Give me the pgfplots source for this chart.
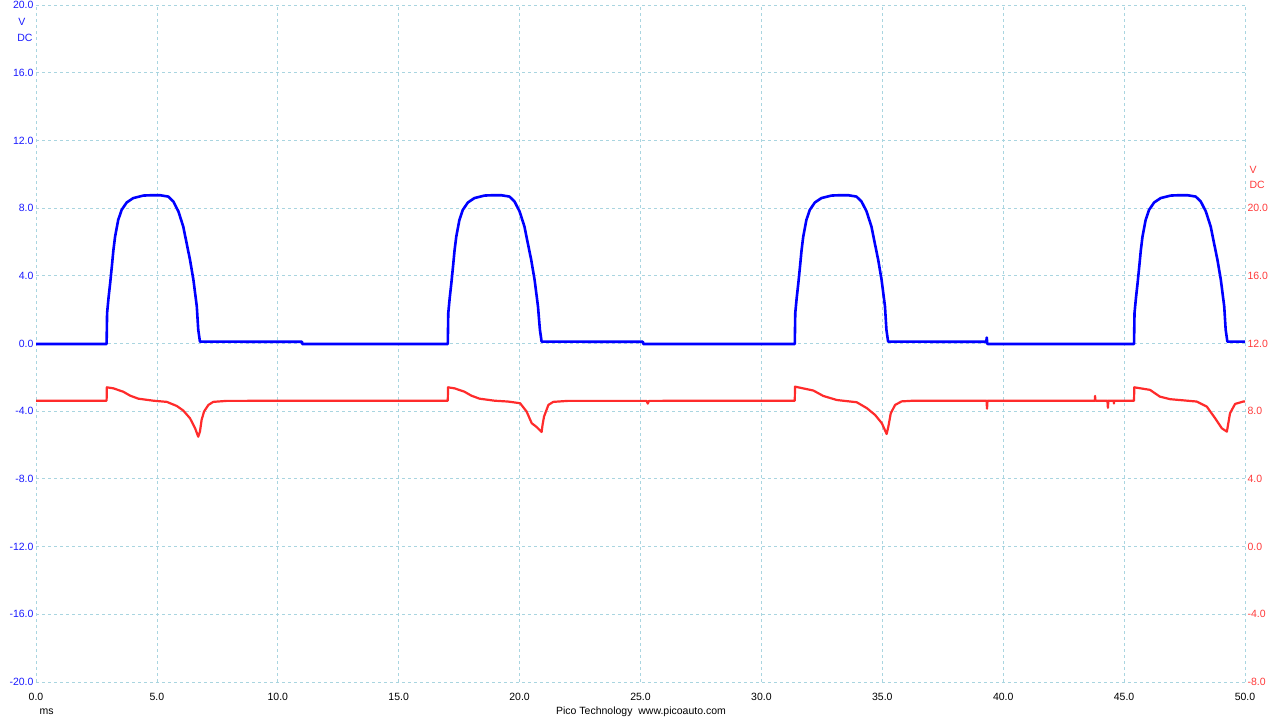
\documentclass[border=0pt]{standalone}
\usepackage{fontspec}
\setmainfont{Liberation Sans}
\usepackage{pgfplots}
\pgfplotsset{compat=1.18}
\definecolor{gridc}{HTML}{A9D5E0}
\definecolor{bluetr}{HTML}{0000FF}
\definecolor{bluelab}{HTML}{1A1AFF}
\definecolor{redtr}{HTML}{FF2B2B}
\definecolor{redlab}{HTML}{FF3A3A}
\newcommand{\lab}{\fontsize{10.5bp}{12bp}\selectfont}
\begin{document}
\begin{tikzpicture}[x=1bp,y=1bp]
\useasboundingbox (0,0) rectangle (1280,720);
\begin{axis}[
  at={(36bp,38bp)}, anchor=south west,
  scale only axis, width=1209bp, height=677bp,
  xmin=0, xmax=50, ymin=-20, ymax=20,
  xtick={0,5,10,15,20,25,30,35,40,45,50},
  ytick={-20,-16,-12,-8,-4,0,4,8,12,16,20},
  grid=major,
  major grid style={gridc, dash pattern=on 3bp off 3bp, line width=0.8bp},
  axis line style={draw=none},
  major tick length=0pt,
  /pgf/number format/fixed, /pgf/number format/fixed zerofill,
  /pgf/number format/precision=1, /pgf/number format/assume math mode=true,
  ticklabel style={font=\lab},
  yticklabel style={bluelab, xshift=1bp},
  xticklabel style={black, yshift=-8bp},
  clip=false,
]
\addplot[bluetr, line width=2.6bp, line join=round] coordinates {
(0,-0.03) (2.92,-0.03) (2.94,1.8) (3.00,2.7) (3.07,3.6) (3.14,4.6) (3.20,5.5) (3.27,6.31) (3.40,7.30) (3.54,7.89) (3.75,8.33) (4.02,8.59) (4.44,8.74) (4.77,8.76) (5.13,8.76) (5.47,8.68) (5.68,8.39) (5.89,7.80) (6.09,6.91) (6.23,5.92) (6.37,4.94) (6.51,3.76) (6.65,2.19) (6.71,0.81) (6.78,0.11) (11.0,0.10) (11.01,-0.03)
(17.03,-0.03) (17.05,1.8) (17.11,2.7) (17.18,3.6) (17.25,4.6) (17.31,5.5) (17.38,6.31) (17.51,7.30) (17.65,7.89) (17.86,8.33) (18.13,8.59) (18.55,8.74) (18.88,8.76) (19.24,8.76) (19.58,8.68) (19.79,8.39) (20.00,7.80) (20.20,6.91) (20.34,5.92) (20.48,4.94) (20.62,3.76) (20.76,2.19) (20.84,0.81) (20.91,0.11) (25.1,0.10) (25.11,-0.03)
(31.38,-0.03) (31.40,1.8) (31.46,2.7) (31.53,3.6) (31.60,4.6) (31.66,5.5) (31.73,6.31) (31.86,7.30) (32.00,7.89) (32.21,8.33) (32.48,8.59) (32.90,8.74) (33.23,8.76) (33.59,8.76) (33.93,8.68) (34.14,8.39) (34.35,7.80) (34.55,6.91) (34.69,5.92) (34.83,4.94) (34.97,3.76) (35.11,2.19) (35.17,0.81) (35.24,0.11) (39.30,0.10) (39.32,0.35) (39.34,0.0) (39.36,-0.03)
(45.41,-0.03) (45.43,1.8) (45.49,2.7) (45.56,3.6) (45.63,4.6) (45.69,5.5) (45.76,6.31) (45.89,7.30) (46.03,7.89) (46.24,8.33) (46.51,8.59) (46.93,8.74) (47.26,8.76) (47.62,8.76) (47.96,8.68) (48.17,8.39) (48.38,7.80) (48.58,6.91) (48.72,5.92) (48.86,4.94) (49.00,3.76) (49.14,2.19) (49.20,0.81) (49.27,0.11) (50,0.11)
};
\end{axis}
\begin{axis}[
  at={(36bp,38bp)}, anchor=south west,
  scale only axis, width=1209bp, height=677bp,
  xmin=0, xmax=50, ymin=-8, ymax=32,
  axis x line=none, axis y line*=right,
  axis line style={draw=none},
  major tick length=0pt,
  ytick={-8,-4,0,4,8,12,16,20},
  /pgf/number format/fixed, /pgf/number format/fixed zerofill,
  /pgf/number format/precision=1, /pgf/number format/assume math mode=true,
  ticklabel style={font=\lab},
  yticklabel style={redlab, xshift=-1bp},
  clip=false,
]
\addplot[redtr, line width=2.2bp, line join=round] coordinates {
(0,8.62) (2.92,8.62) (2.93,9.41) (3.20,9.35) (3.61,9.15) (3.89,8.92) (4.23,8.74) (4.85,8.62) (5.41,8.55) (5.82,8.31) (6.09,8.04) (6.37,7.58) (6.58,6.99) (6.71,6.49) (6.78,6.79) (6.85,7.49) (6.95,7.98) (7.13,8.37) (7.33,8.55) (7.89,8.61)
(17.03,8.62) (17.04,9.41) (17.31,9.35) (17.72,9.15) (18.00,8.92) (18.34,8.74) (18.96,8.62) (19.52,8.57) (20.02,8.47) (20.29,7.98) (20.50,7.29) (20.71,7.06) (20.91,6.77) (20.95,7.2) (21.01,7.68) (21.19,8.37) (21.39,8.55) (22.0,8.61)
(25.25,8.61) (25.3,8.45) (25.35,8.61)
(31.38,8.62) (31.39,9.45) (32.15,9.22) (32.56,8.90) (33.12,8.66) (33.94,8.53) (34.36,8.18) (34.70,7.78) (34.98,7.29) (35.18,6.65) (35.25,7.09) (35.35,7.88) (35.53,8.37) (35.80,8.58) (36.3,8.62)
(39.31,8.62) (39.33,8.15) (39.35,8.62)
(43.79,8.62) (43.80,8.9) (43.81,8.62)
(44.31,8.62) (44.33,8.2) (44.35,8.62) (44.57,8.62) (44.58,8.45) (44.59,8.62)
(45.41,8.62) (45.42,9.41) (46.07,9.26) (46.48,8.86) (46.90,8.71) (48.00,8.57) (48.42,8.27) (48.76,7.59) (49.04,6.99) (49.25,6.79) (49.38,7.88) (49.59,8.43) (49.93,8.57) (50,8.57)
};
\end{axis}
\node[bluelab, font=\lab] at (22,698) {V};
\node[bluelab, font=\lab] at (25,682) {DC};
\node[redlab, font=\lab, anchor=west] at (1246,550) {V};
\node[redlab, font=\lab, anchor=west] at (1246,535) {DC};
\node[black, font=\lab, anchor=west] at (36,8) {ms};
\node[black, font=\lab] at (641,8) {Pico Technology\ \ www.picoauto.com};
\end{tikzpicture}
\end{document}
